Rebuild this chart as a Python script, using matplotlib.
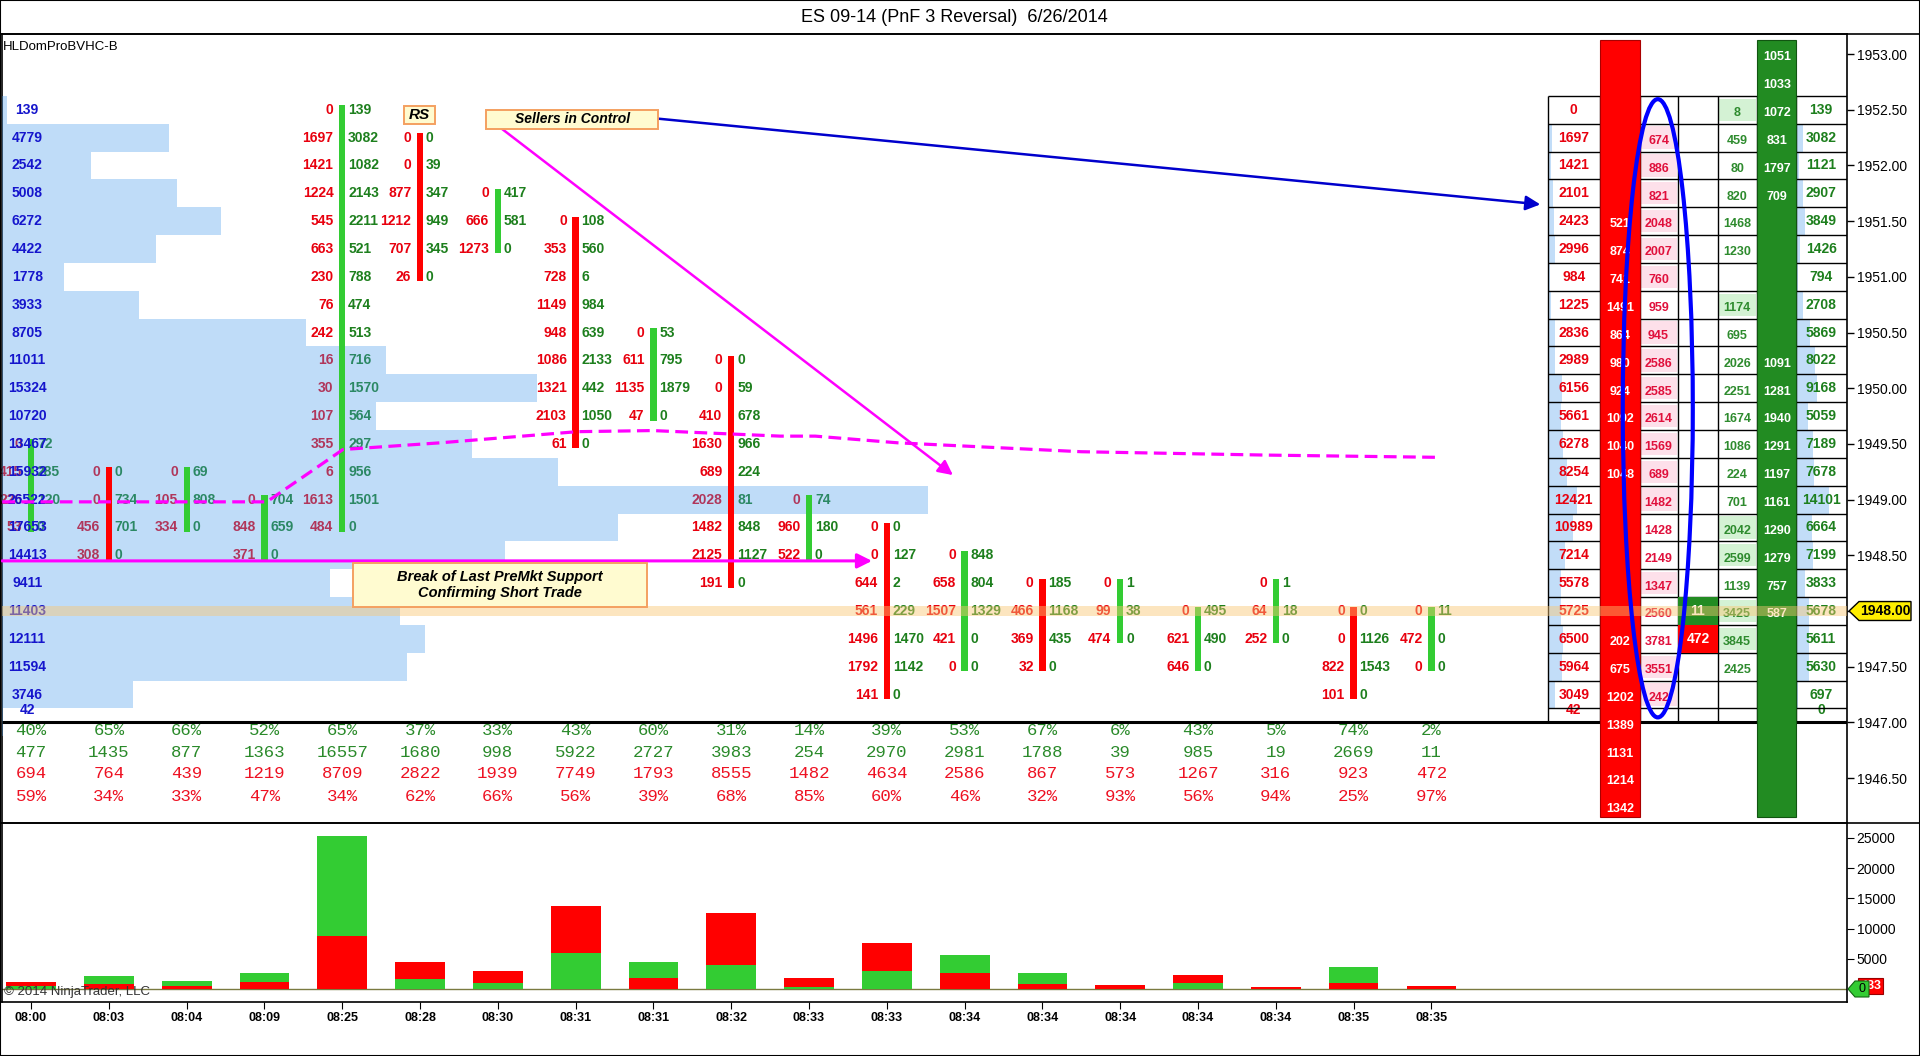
import numpy as np
import matplotlib
matplotlib.use("Agg")
import matplotlib.pyplot as plt
from matplotlib.patches import Rectangle, Ellipse, Polygon
from matplotlib.lines import Line2D
import matplotlib.transforms as mtransforms

plt.rcParams['font.family'] = ['Liberation Sans', 'DejaVu Sans']

# ------------------------------------------------------------------ data
title = "ES 09-14 (PnF 3 Reversal)  6/26/2014"
indicator_name = "HLDomProBVHC-B"
times = ["08:00", "08:03", "08:04", "08:09", "08:25", "08:28", "08:30", "08:31", "08:31",
         "08:32", "08:33", "08:33", "08:34", "08:34", "08:34", "08:34", "08:34", "08:35", "08:35"]
col_dir = ["up", "down", "up", "up", "up", "down", "up", "down", "up", "down",
           "up", "down", "up", "down", "up", "up", "up", "down", "up"]
col_top = [1949.50, 1949.25, 1949.25, 1949.00, 1952.50, 1952.25, 1951.75, 1951.50, 1950.50,
           1950.25, 1949.00, 1948.75, 1948.50, 1948.25, 1948.25, 1948.00, 1948.25, 1948.00, 1948.00]
col_sell = [
    [0, 415, 226, 53],
    [0, 0, 456, 308],
    [0, 105, 334],
    [0, 848, 371],
    [0, 1697, 1421, 1224, 545, 663, 230, 76, 242, 16, 30, 107, 355, 6, 1613, 484],
    [0, 0, 877, 1212, 707, 26],
    [0, 666, 1273],
    [0, 353, 728, 1149, 948, 1086, 1321, 2103, 61],
    [0, 611, 1135, 47],
    [0, 0, 410, 1630, 689, 2028, 1482, 2125, 191],
    [0, 960, 522],
    [0, 0, 644, 561, 1496, 1792, 141],
    [0, 658, 1507, 421, 0],
    [0, 466, 369, 32],
    [0, 99, 474],
    [0, 621, 646],
    [0, 64, 252],
    [0, 0, 822, 101],
    [0, 472, 0],
]
col_buy = [
    [72, 285, 120, 0],
    [0, 734, 701, 0],
    [69, 808, 0],
    [704, 659, 0],
    [139, 3082, 1082, 2143, 2211, 521, 788, 474, 513, 716, 1570, 564, 297, 956, 1501, 0],
    [0, 39, 347, 949, 345, 0],
    [417, 581, 0],
    [108, 560, 6, 984, 639, 2133, 442, 1050, 0],
    [53, 795, 1879, 0],
    [0, 59, 678, 966, 224, 81, 848, 1127, 0],
    [74, 180, 0],
    [0, 127, 2, 229, 1470, 1142, 0],
    [848, 804, 1329, 0, 0],
    [185, 1168, 435, 0],
    [1, 38, 0],
    [495, 490, 0],
    [1, 18, 0],
    [0, 1126, 1543, 0],
    [11, 0, 0],
]
buy_pct = [40, 65, 66, 52, 65, 37, 33, 43, 60, 31, 14, 39, 53, 67, 6, 43, 5, 74, 2]
buy_tot = [477, 1435, 877, 1363, 16557, 1680, 998, 5922, 2727, 3983, 254, 2970, 2981, 1788, 39, 985, 19, 2669, 11]
sell_tot = [694, 764, 439, 1219, 8709, 2822, 1939, 7749, 1793, 8555, 1482, 4634, 2586, 867, 573, 1267, 316, 923, 472]
sell_pct = [59, 34, 33, 47, 34, 62, 66, 56, 39, 68, 85, 60, 46, 32, 93, 56, 94, 25, 97]

# price ladder of the session profile / DOM table (1952.50 down to 1947.00)
ladder = np.arange(1952.50, 1946.99, -0.25)
profile_vol = [139, 4779, 2542, 5008, 6272, 4422, 1778, 3933, 8705, 11011, 15324, 10720, 13467,
               15932, 26522, 17653, 14413, 9411, 11403, 12111, 11594, 3746, 42]
table_sell = [0, 1697, 1421, 2101, 2423, 2996, 984, 1225, 2836, 2989, 6156, 5661, 6278, 8254,
              12421, 10989, 7214, 5578, 5725, 6500, 5964, 3049, 42]
table_buy = [139, 3082, 1121, 2907, 3849, 1426, 794, 2708, 5869, 8022, 9168, 5059, 7189, 7678,
             14101, 6664, 7199, 3833, 5678, 5611, 5630, 697, 0]
ask_traded = [None, 674, 886, 821, 2048, 2007, 760, 959, 945, 2586, 2585, 2614, 1569, 689,
              1482, 1428, 2149, 1347, 2560, 3781, 3551, 242, None]
ask_hl = [False, True, True, True, True, True, True, False, True, True, True, True, True, True,
          True, False, False, True, False, False, True, True, False]
bid_traded = [8, 459, 80, 820, 1468, 1230, None, 1174, 695, 2026, 2251, 1674, 1086, 224, 701,
              2042, 2599, 1139, 3425, 3845, 2425, None, None]
bid_hl = [True, False, False, False, False, False, False, True, False, False, False, False, False,
          False, False, True, True, False, True, True, False, False, False]
ask_dom_prices = [1951.50, 1951.25, 1951.00, 1950.75, 1950.50, 1950.25, 1950.00, 1949.75, 1949.50,
                  1949.25, 1947.75, 1947.50, 1947.25, 1947.00, 1946.75, 1946.50, 1946.25]
ask_dom_size = [521, 874, 741, 1491, 864, 980, 924, 1092, 1040, 1048, 202, 675, 1202, 1389, 1131, 1214, 1342]
bid_dom_prices = [1953.00, 1952.75, 1952.50, 1952.25, 1952.00, 1951.75, 1950.25, 1950.00, 1949.75,
                  1949.50, 1949.25, 1949.00, 1948.75, 1948.50, 1948.25, 1948.00]
bid_dom_size = [1051, 1033, 1072, 831, 1797, 709, 1091, 1281, 1940, 1291, 1197, 1161, 1290, 1279, 757, 587]
cur_prices = [1948.00, 1947.75]
cur_vals = [11, 472]
cur_side = ["buy", "sell"]
last_price = 1948.00
vwap_x = [-0.37, 3.03, 4.01, 5.26, 7.02, 7.99, 9.63, 10.08, 11.14, 13.50, 15.86, 18.05]
vwap_y = [1948.98, 1948.98, 1949.45, 1949.51, 1949.61, 1949.62, 1949.57, 1949.57, 1949.51,
          1949.43, 1949.40, 1949.38]

# ------------------------------------------------------------------ style
BAR_GREEN = '#33cc33'
BAR_RED = '#ff0000'
SELL_TXT = '#e8000e'
BUY_TXT = '#1d7f1d'
PROF_TXT = '#1515cc'
MAG = '#ff00ff'
W, H = 1920, 1056
XL, XR = -0.373, 23.342
YB, YT = 1946.097, 1953.18
edges = [19.50, 20.17, 20.68, 21.17, 21.68, 22.19, 22.69, 23.342]

fig = plt.figure(figsize=(W / 100, H / 100), dpi=100)
fig.patch.set_facecolor('white')
ax = fig.add_axes([2 / W, 1 - 823 / H, 1845 / W, (823 - 34) / H])
axv = fig.add_axes([2 / W, 1 - 1002 / H, 1845 / W, (1002 - 823) / H])
ax.set_xlim(XL, XR)
ax.set_ylim(YB, YT)
ax.set_xticks([])
ax.yaxis.tick_right()
ax.set_yticks(np.arange(1946.5, 1953.01, 0.5))
ax.set_yticklabels([f"{v:.2f}" for v in np.arange(1946.5, 1953.01, 0.5)], fontsize=10)
ax.tick_params(axis='y', length=5, pad=2, width=1)
ax.spines['bottom'].set_visible(False)
for s in ['left', 'top', 'right']:
    ax.spines[s].set_linewidth(1.2)

# session profile
ax.barh(ladder, np.array(profile_vol) * 4.486e-4, height=0.25, left=XL,
        color=(0.283, 0.608, 0.922), alpha=0.35, lw=0, zorder=3)
for p, v in zip(ladder, profile_vol):
    yy = p if p > 1947.05 else 1947.11
    ax.text(-0.05, yy, str(v), ha='center', va='center', color=PROF_TXT,
            fontsize=10, fontweight='bold', zorder=6)

# PnF columns with bid/ask volume
for i in range(len(times)):
    k = len(col_sell[i])
    prices = col_top[i] - 0.25 * np.arange(k)
    color = BAR_GREEN if col_dir[i] == 'up' else BAR_RED
    ax.bar(i, prices[0] - prices[-1] + 0.08, bottom=prices[-1] - 0.04, width=0.08,
           color=color, lw=0, zorder=4)
    for p, s, b in zip(prices, col_sell[i], col_buy[i]):
        ax.annotate(str(s), (i, p), xytext=(-6.3, 0), textcoords='offset points', ha='right',
                    va='center', color=SELL_TXT, fontsize=10, fontweight='bold', zorder=2,
                    annotation_clip=False)
        ax.annotate(str(b), (i, p), xytext=(4.3, 0), textcoords='offset points', ha='left',
                    va='center', color=BUY_TXT, fontsize=10, fontweight='bold', zorder=2,
                    annotation_clip=False)

# stats rows
stat_y = [1946.923, 1946.734, 1946.537, 1946.339]
for i in range(len(times)):
    for yy, txt, c in zip(stat_y, [f"{buy_pct[i]}%", str(buy_tot[i]), str(sell_tot[i]), f"{sell_pct[i]}%"],
                          ['#2a8a2a', '#2a8a2a', '#ee1122', '#ee1122']):
        ax.text(i, yy, txt, ha='center', va='center', family='Liberation Mono', fontsize=12.5,
                color=c, zorder=2)

ax.plot([XL, edges[-1]], [1947.0, 1947.0], color='black', lw=2.2, zorder=4.5, solid_capstyle='butt')

# VWAP-like dashed line
ax.plot(vwap_x, vwap_y, color=MAG, lw=2.3, ls=(0, (4, 2)), zorder=7)

# ---------------- DOM table on the right
tscale = 2.96e-5
ax.barh(ladder, np.array(table_sell) * tscale, height=0.25, left=edges[0], color='#c2ddf8', lw=0, zorder=1)
ax.barh(ladder, np.array(table_buy) * tscale, height=0.25, left=edges[6], color='#c2ddf8', lw=0, zorder=1)
ask_hl_p = [p for p, h in zip(ladder, ask_hl) if h]
ax.barh(ask_hl_p, 0.46, height=0.2, left=edges[2] + 0.02, color='#fde0ea', lw=0, zorder=1)
bid_hl_p = [p for p, h in zip(ladder, bid_hl) if h]
ax.barh(bid_hl_p, 0.47, height=0.2, left=edges[4] + 0.02, color='#d4f2d4', lw=0, zorder=1)
for p, v in zip(ladder, table_sell):
    yy = p if p > 1947.05 else 1947.11
    ax.text(19.83, yy, str(v), ha='center', va='center', color=SELL_TXT, fontsize=10,
            fontweight='bold', zorder=2)
for p, v in zip(ladder, table_buy):
    yy = p if p > 1947.05 else 1947.11
    ax.text(23.01, yy, str(v), ha='center', va='center', color=BUY_TXT, fontsize=10,
            fontweight='bold', zorder=2)
for p, v in zip(ladder, ask_traded):
    if v is not None:
        ax.text(20.92, p - 0.03, str(v), ha='center', va='center', color='#e0103c', fontsize=9,
                fontweight='bold', zorder=2)
for p, v in zip(ladder, bid_traded):
    if v is not None:
        ax.text(21.93, p - 0.03, str(v), ha='center', va='center', color='#2e8b2e', fontsize=9,
                fontweight='bold', zorder=2)
for p, v, sd in zip(cur_prices, cur_vals, cur_side):
    ax.barh(p, edges[4] - edges[3], height=0.25, left=edges[3],
            color='#228b22' if sd == 'buy' else '#ff0000', lw=0, zorder=4.2)
    ax.text((edges[3] + edges[4]) / 2, p, str(v), ha='center', va='center', color='white',
            fontsize=10, fontweight='bold', zorder=4.3)
# grid
hl = np.arange(1952.625, 1947.0, -0.25)
ax.hlines(hl, edges[0], edges[-1], color='black', lw=1, zorder=4)
ax.vlines(edges[:-1], 1947.0, 1952.625, color='black', lw=1, zorder=4)
# DOM columns
ax.bar((edges[1] + edges[2]) / 2, 1953.13 - 1946.15, bottom=1946.15, width=edges[2] - edges[1],
       color='#ff0000', edgecolor='#aa0000', lw=0.8, zorder=5)
ax.bar((edges[5] + edges[6]) / 2, 1953.13 - 1946.15, bottom=1946.15, width=edges[6] - edges[5],
       color='#228b22', edgecolor='#115511', lw=0.8, zorder=5)
for p, v in zip(ask_dom_prices, ask_dom_size):
    ax.text((edges[1] + edges[2]) / 2, p - 0.03, str(v), ha='center', va='center', color='white',
            fontsize=9, fontweight='bold', zorder=5.5)
for p, v in zip(bid_dom_prices, bid_dom_size):
    ax.text((edges[5] + edges[6]) / 2, p - 0.03, str(v), ha='center', va='center', color='white',
            fontsize=9, fontweight='bold', zorder=5.5)

# last price band
ax.axhspan(last_price - 0.042, last_price + 0.042, color=(0.98, 0.78, 0.45), alpha=0.45, lw=0, zorder=6.5)

# ellipse
ax.add_patch(Ellipse((20.91, 1949.82), 0.90, 5.55, fill=False, ec='#0000ff', lw=3, zorder=8))

# annotations
ax.annotate('', xy=(11.85, 1949.22), xytext=(6.05, 1952.33),
            arrowprops=dict(arrowstyle='-|>', color=MAG, lw=1.8, mutation_scale=22, shrinkA=0, shrinkB=0),
            zorder=8)
ax.annotate('', xy=(19.40, 1951.65), xytext=(8.06, 1952.42),
            arrowprops=dict(arrowstyle='-|>', color='#0000cc', lw=1.8, mutation_scale=22, shrinkA=0, shrinkB=0),
            zorder=8)
ax.annotate('', xy=(10.81, 1948.45), xytext=(XL, 1948.45),
            arrowprops=dict(arrowstyle='-|>', color=MAG, lw=2.2, mutation_scale=22, shrinkA=0, shrinkB=0),
            zorder=8, annotation_clip=False)

def box(x0, x1, y0, y1, txt, fs):
    ax.add_patch(Rectangle((x0, y0), x1 - x0, y1 - y0, fc='#fffbd0', ec='#f4a060', lw=1.4, zorder=9))
    ax.text((x0 + x1) / 2, (y0 + y1) / 2, txt, ha='center', va='center', fontsize=fs,
            fontweight='bold', fontstyle='italic', zorder=10, linespacing=1.15)

box(4.79, 5.19, 1952.37, 1952.53, "RS", 11)
box(5.85, 8.06, 1952.33, 1952.50, "Sellers in Control", 10)
box(4.14, 7.92, 1948.04, 1948.43, "Break of Last PreMkt Support\nConfirming Short Trade", 10.5)

# price tag
tb = mtransforms.blended_transform_factory(fig.transFigure, ax.transData)
ax.add_patch(Polygon([(1849 / W, last_price), (1859 / W, last_price + 0.085), (1911 / W, last_price + 0.085),
                      (1911 / W, last_price - 0.085), (1859 / W, last_price - 0.085)], closed=True,
                     transform=tb, fc='#ffee00', ec='black', lw=1, clip_on=False, zorder=10))
ax.text(1885 / W, last_price, f"{last_price:.2f}", transform=tb, ha='center', va='center',
        fontsize=10, fontweight='bold', zorder=11, clip_on=False)

# ---------------- volume panel
axv.set_xlim(XL, XR)
axv.set_ylim(-2150, 27440)
xs = np.arange(len(times))
b = np.array(buy_tot)
s = np.array(sell_tot)
lo = np.minimum(b, s)
hi = np.maximum(b, s)
lo_c = [BAR_GREEN if bb <= ss else BAR_RED for bb, ss in zip(b, s)]
hi_c = [BAR_RED if bb <= ss else BAR_GREEN for bb, ss in zip(b, s)]
axv.bar(xs, lo, width=0.64, color=lo_c, lw=0, zorder=3)
axv.bar(xs, hi, bottom=lo, width=0.64, color=hi_c, lw=0, zorder=3)
axv.axhline(0, color='#7a7a40', lw=1, zorder=2)
axv.set_xticks(xs)
axv.set_xticklabels(times, fontsize=9, fontweight='bold')
axv.tick_params(axis='x', length=5, pad=2, direction='out')
axv.yaxis.tick_right()
axv.set_yticks([5000, 10000, 15000, 20000, 25000])
axv.set_yticklabels(["5000", "10000", "15000", "20000", "25000"], fontsize=10)
axv.tick_params(axis='y', length=5, pad=2)
for sp in axv.spines.values():
    sp.set_linewidth(1.2)
axv.text(-0.35, -500, "\u00a9 2014 NinjaTrader, LLC", ha='left', va='center', fontsize=9.5,
         color='#333333', zorder=4)
tv = mtransforms.blended_transform_factory(fig.transFigure, axv.transData)
axv.add_patch(Rectangle((1858 / W, 483 - 1322), 25 / W, 2644, transform=tv, fc='#ff0000', ec='#990000',
                        lw=0.8, clip_on=False, zorder=5))
axv.text(1882 / W, 483, str(buy_tot[-1] + sell_tot[-1]), transform=tv, ha='right', va='center',
         color='white', fontsize=9, fontweight='bold', clip_on=False, zorder=6)
axv.add_patch(Polygon([(1848 / W, 0), (1855 / W, 1322), (1869 / W, 1322), (1869 / W, -1322),
                       (1855 / W, -1322)], closed=True, transform=tv, fc='#33cc33', ec='#116611',
                      lw=0.8, clip_on=False, zorder=7))
axv.text(1862 / W, 0, "0", transform=tv, ha='center', va='center', fontsize=9, clip_on=False, zorder=8)

# titles and frame lines
fig.text(954 / W, 1 - 17 / H, title, ha='center', va='center', fontsize=13)
fig.text(3 / W, 1 - 47 / H, indicator_name, ha='left', va='center', fontsize=9.5)
fig.add_artist(Line2D([0, 1], [1 - 34 / H, 1 - 34 / H], transform=fig.transFigure, color='black', lw=1.2))
fig.add_artist(Line2D([0, 1], [1 - 823 / H, 1 - 823 / H], transform=fig.transFigure, color='black', lw=1.2))
fig.add_artist(Rectangle((0, 0), 1, 1, transform=fig.transFigure, fill=False, ec='black', lw=1.5))

fig.savefig("out.png", dpi=100)
